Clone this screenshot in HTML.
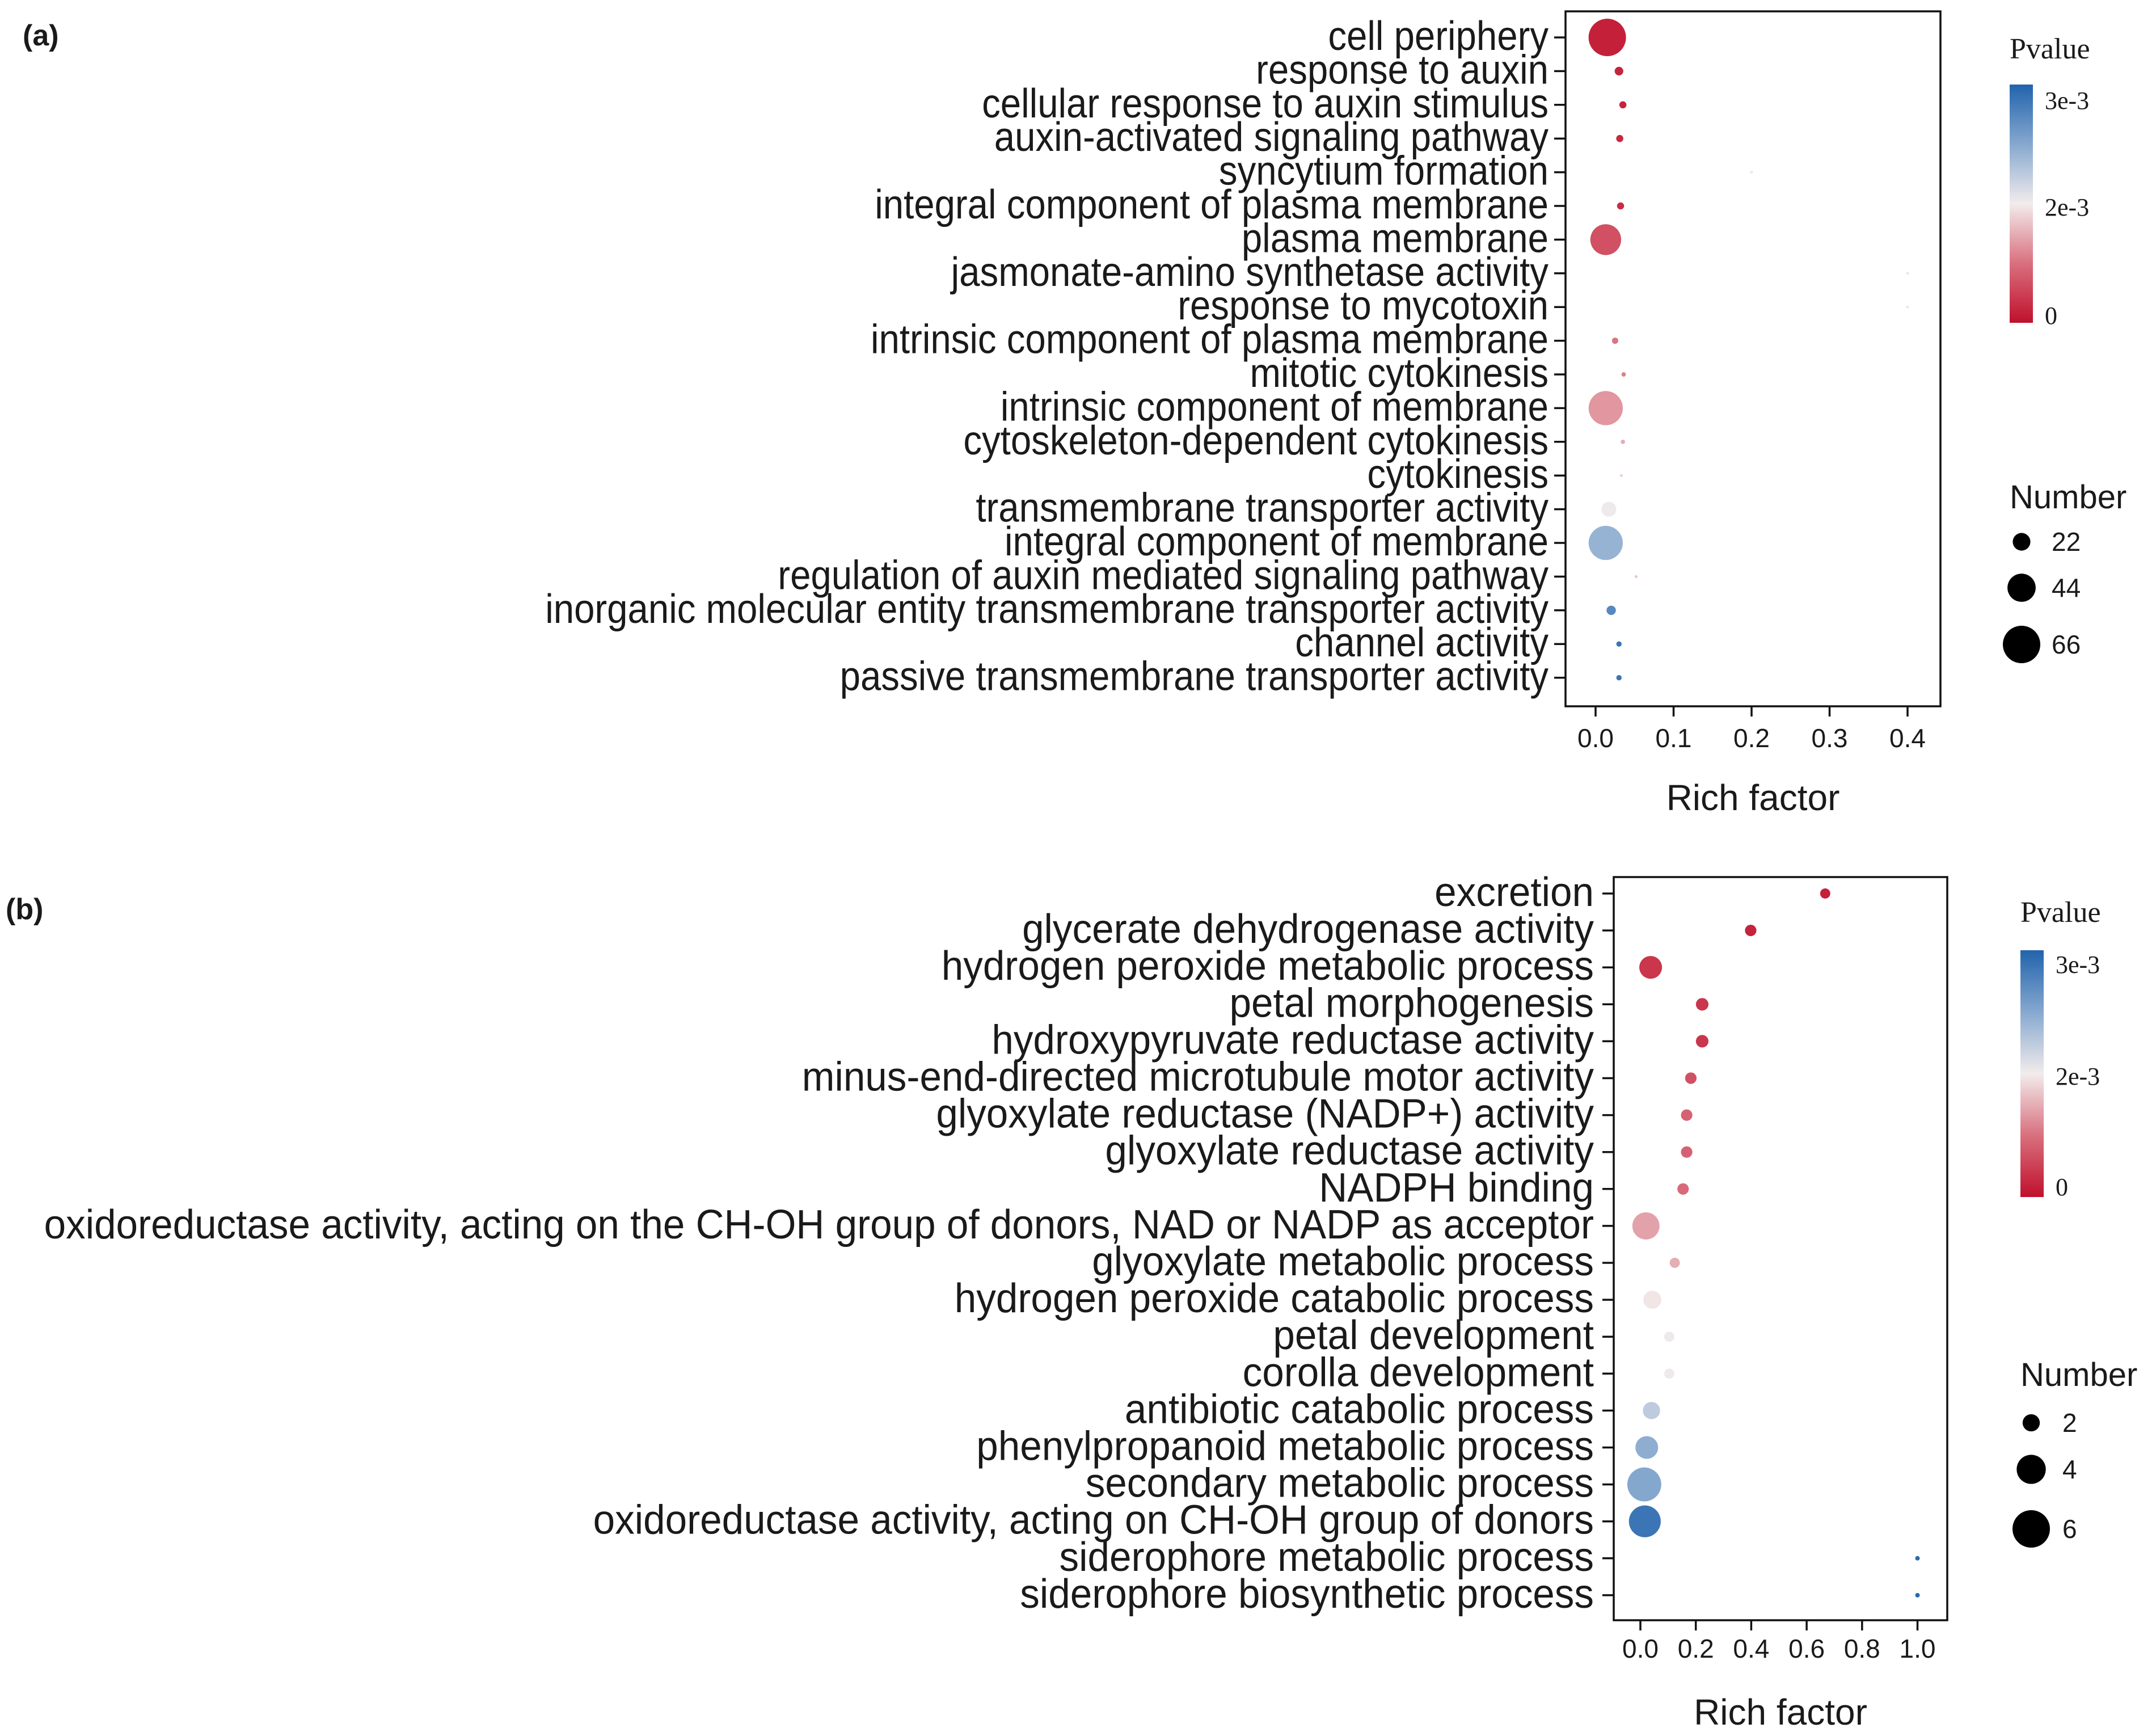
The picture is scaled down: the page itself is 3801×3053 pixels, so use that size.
<!DOCTYPE html>
<html><head><meta charset="utf-8">
<style>
html,body{margin:0;padding:0;background:#fff;}
svg{display:block;}
text{font-family:"Liberation Sans",Arial,sans-serif;fill:#1a1a1a;}
.serif{font-family:"Liberation Serif","Times New Roman",serif;}
</style></head>
<body>
<svg id="fig" width="3801" height="3053" viewBox="0 0 3801 3053" xmlns="http://www.w3.org/2000/svg">
<defs>
<linearGradient id="cbar" x1="0" y1="1" x2="0" y2="0">
<stop offset="0" stop-color="#C0102C"/>
<stop offset="0.25" stop-color="#D9707E"/>
<stop offset="0.5" stop-color="#F2ECEC"/>
<stop offset="0.75" stop-color="#86A8CF"/>
<stop offset="1" stop-color="#2163AC"/>
</linearGradient>
</defs>
<g id="pa"></g>
<g id="pb"></g>
</svg>
<script>
// ---- Panel A data ----
const termsA = ["cell periphery","response to auxin","cellular response to auxin stimulus","auxin-activated signaling pathway","syncytium formation","integral component of plasma membrane","plasma membrane","jasmonate-amino synthetase activity","response to mycotoxin","intrinsic component of plasma membrane","mitotic cytokinesis","intrinsic component of membrane","cytoskeleton-dependent cytokinesis","cytokinesis","transmembrane transporter activity","integral component of membrane","regulation of auxin mediated signaling pathway","inorganic molecular entity transmembrane transporter activity","channel activity","passive transmembrane transporter activity"];
const richA = [0.015,0.030,0.035,0.031,0.20,0.032,0.013,0.40,0.40,0.025,0.036,0.013,0.035,0.033,0.017,0.013,0.052,0.020,0.030,0.030];
const numA = [66,7,5,5,1,5,50,1,1,4,2,58,2,1,17,58,1,8,3,3];
const pvalA = [0.05,0.1,0.1,0.15,2.0,0.2,0.6,2.0,2.0,1.0,1.1,1.3,1.5,1.8,2.05,2.5,1.7,2.85,3.0,3.0]; // x1e-3
const ticksA = [0.0,0.1,0.2,0.3,0.4];
const tickLabelsA = ["0.0","0.1","0.2","0.3","0.4"];
const legNumA = [22,44,66];
// ---- Panel B data ----
const termsB = ["excretion","glycerate dehydrogenase activity","hydrogen peroxide metabolic process","petal morphogenesis","hydroxypyruvate reductase activity","minus-end-directed microtubule motor activity","glyoxylate reductase (NADP+) activity","glyoxylate reductase activity","NADPH binding","oxidoreductase activity, acting on the CH-OH group of donors, NAD or NADP as acceptor","glyoxylate metabolic process","hydrogen peroxide catabolic process","petal development","corolla development","antibiotic catabolic process","phenylpropanoid metabolic process","secondary metabolic process","oxidoreductase activity, acting on CH-OH group of donors","siderophore metabolic process","siderophore biosynthetic process"];
const richB = [0.667,0.398,0.037,0.223,0.223,0.182,0.167,0.167,0.154,0.020,0.124,0.043,0.104,0.104,0.040,0.023,0.014,0.016,1.0,1.0];
const numB = [1.3,1.4,2.8,1.5,1.5,1.4,1.4,1.4,1.4,3.6,1.3,2.1,1.3,1.3,2.0,2.8,5.1,4.6,1,1];
const pvalB = [0.05,0.1,0.3,0.3,0.3,0.6,0.8,0.8,0.9,1.4,1.5,2.0,2.05,2.05,2.3,2.55,2.6,3.0,3.1,3.1];
const ticksB = [0.0,0.2,0.4,0.6,0.8,1.0];
const tickLabelsB = ["0.0","0.2","0.4","0.6","0.8","1.0"];
const legNumB = [2,4,6];
const cbLabels = ["3e-3","2e-3","0"];

const NS="http://www.w3.org/2000/svg";
function mk(parent,tag,attrs,txt){const e=document.createElementNS(NS,tag);for(const k in attrs)e.setAttribute(k,attrs[k]);if(txt!==undefined)e.textContent=txt;parent.appendChild(e);return e;}
function lerp(a,b,t){return a+(b-a)*t;}
function pToT(p){
  if(p<=2) return lerp(0.03,0.486,p/2);
  return Math.min(1,lerp(0.486,0.933,(p-2)));
}
const stops=[[0,[192,16,44]],[0.25,[217,112,126]],[0.5,[242,236,236]],[0.75,[134,168,207]],[1,[33,99,172]]];
function color(p){const t=pToT(p);for(let i=0;i<stops.length-1;i++){const [a,ca]=stops[i],[b,cb]=stops[i+1];if(t<=b){const u=(t-a)/(b-a);return "rgb("+ca.map((c,j)=>Math.round(lerp(c,cb[j],u))).join(",")+")";}}return "rgb(33,99,172)";}
function sizeA(n){return 2.5+30.5*Math.pow(Math.max(0,n-1)/65,0.75);}
function sizeB(n){return Math.sqrt(16+1073*Math.max(0,n-1)/5);}

function panel(g,cfg){
  const {terms,rich,num,pval,ticks,tickLabels,legNum,size,box,x0,xPerUnit,row0,rowStep,labRight,refIdx,refWidth,cb,leg}=cfg;
  const xs=v=>x0+v*xPerUnit;
  const ys=i=>row0+i*rowStep;
  const lt=mk(g,"text",{x:cfg.letter.x,y:cfg.letter.y,"font-size":52,"font-weight":"bold"},cfg.letter.t);
  
  
  const rect=mk(g,"rect",{x:box.l,y:box.t,width:box.r-box.l,height:box.b-box.t,fill:"none",stroke:"#111","stroke-width":3.5});
  
  
  const labels=[];
  terms.forEach((t,i)=>{
    mk(g,"line",{x1:box.l-20,x2:box.l,y1:ys(i),y2:ys(i),stroke:"#111","stroke-width":3.5});
    const tx=mk(g,"text",{x:0,y:0,"font-size":72,"text-anchor":"end"},t);
    
    
    labels.push([tx,ys(i)]);
  });
  let f=1;
  try{const w=labels[refIdx][0].getComputedTextLength();if(w>0)f=refWidth/w;}catch(e){}
  labels.forEach(([tx,y])=>tx.setAttribute("transform","translate("+labRight+","+(y+22)+") scale("+f+",1)"));
  ticks.forEach((v,i)=>{
    mk(g,"line",{x1:xs(v),x2:xs(v),y1:box.b,y2:box.b+18,stroke:"#111","stroke-width":3.5});
    const tl=mk(g,"text",{x:xs(v),y:cfg.tickY,"font-size":46,"text-anchor":"middle",fill:"#333"},tickLabels[i]);
    
    
  });
  const xt=mk(g,"text",{x:(box.l+box.r)/2,y:cfg.titleY,"font-size":64,"text-anchor":"middle"},"Rich factor");
  
  
  terms.forEach((t,i)=>{
    const c=mk(g,"circle",{cx:xs(rich[i]),cy:ys(i),r:size(num[i]),fill:color(pval[i])});
    
    
  });
  const pt=mk(g,"text",{x:cb.x,y:cb.titleY,"font-size":52,"font-weight":"normal",class:"serif",fill:"#222"},"Pvalue");
  
  
  const bar=mk(g,"rect",{x:cb.x,y:cb.t,width:41,height:cb.b-cb.t,fill:"url(#cbar)"});
  
  
  cbLabels.forEach((s,i)=>{
    const l=mk(g,"text",{x:cb.x+62,y:cb.labY[i]+15,"font-size":44,class:"serif",fill:"#333"},s);
    
    
  });
  const nt=mk(g,"text",{x:cb.x,y:leg.titleY,"font-size":58},"Number");
  
  
  legNum.forEach((n,i)=>{
    const c=mk(g,"circle",{cx:leg.cx,cy:leg.ys[i],r:size(n),fill:"#000"});
    
    
    const l=mk(g,"text",{x:leg.lx,y:leg.ys[i]+16,"font-size":46,fill:"#222"},String(n));
    
    
  });
}

panel(document.getElementById("pa"),{
  terms:termsA,rich:richA,num:numA,pval:pvalA,ticks:ticksA,tickLabels:tickLabelsA,legNum:legNumA,size:sizeA,
  box:{l:2760,r:3421,t:20,b:1245},x0:2813,xPerUnit:1375,row0:66,rowStep:59.4,labRight:2730,refIdx:17,refWidth:1769,
  tickY:1317,titleY:1428,letter:{x:40,y:80,t:"(a)"},
  cb:{x:3543,titleY:103,t:149,b:569,labY:[177,365,556]},
  leg:{titleY:896,cx:3564,lx:3617,ys:[955,1036,1136]}
});
panel(document.getElementById("pb"),{
  terms:termsB,rich:richB,num:numB,pval:pvalB,ticks:ticksB,tickLabels:tickLabelsB,legNum:legNumB,size:sizeB,
  box:{l:2845,r:3433,t:1546,b:2856},x0:2892,xPerUnit:488.5,row0:1575,rowStep:65.1,labRight:2810,refIdx:9,refWidth:2733,
  tickY:2922,titleY:3040,letter:{x:10,y:1620,t:"(b)"},
  cb:{x:3562,titleY:1625,t:1675,b:2110,labY:[1700,1897,2092]},
  leg:{titleY:2443,cx:3581,lx:3636,ys:[2508,2590,2695]}
});
</script>
</body></html>
